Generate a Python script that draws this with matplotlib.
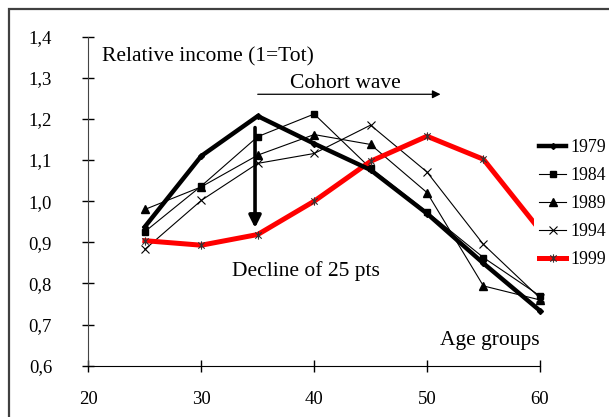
import numpy as np
import matplotlib
matplotlib.use('Agg')
import matplotlib.pyplot as plt
from matplotlib.path import Path
from matplotlib.patches import Rectangle

plt.rcParams['font.family'] = ['Liberation Serif', 'DejaVu Serif']

ages = [25, 30, 35, 40, 45, 50, 55, 60]
y1979 = [0.938, 1.110, 1.207, 1.140, 1.076, 0.970, 0.849, 0.734]
y1984 = [0.926, 1.037, 1.157, 1.212, 1.080, 0.974, 0.863, 0.770]
y1989 = [0.980, 1.035, 1.112, 1.162, 1.138, 1.021, 0.794, 0.760]
y1994 = [0.883, 1.002, 1.092, 1.116, 1.185, 1.071, 0.895, 0.765]
y1999 = [0.904, 0.893, 0.919, 1.000, 1.097, 1.158, 1.102, 0.930]

xticks = [20, 30, 40, 50, 60]
yticks = [0.6, 0.7, 0.8, 0.9, 1.0, 1.1, 1.2, 1.3, 1.4]
ytick_labels = ['0,6', '0,7', '0,8', '0,9', '1,0', '1,1', '1,2', '1,3', '1,4']

# excel style star marker: x with a vertical bar
star = Path([(-1, -1), (1, 1), (-1, 1), (1, -1), (0, -1.3), (0, 1.3)],
            [Path.MOVETO, Path.LINETO, Path.MOVETO, Path.LINETO, Path.MOVETO, Path.LINETO])

fig = plt.figure(figsize=(6.09, 4.17), dpi=100)
ax = fig.add_axes([0.1453, 0.123, 0.7411, 0.789])

ax.plot(ages, y1979, color='black', lw=3.2, marker='D', ms=3, label='1979', clip_on=False, zorder=3)
ax.plot(ages, y1984, color='black', lw=0.8, marker='s', ms=5, label='1984', clip_on=False)
ax.plot(ages, y1989, color='black', lw=0.8, marker='^', ms=5.5, label='1989', clip_on=False)
ax.plot(ages, y1994, color='black', lw=0.8, marker='x', ms=6, mew=0.8, label='1994', clip_on=False)
ax.plot(ages, y1999, color='#ff0000', lw=3.6, marker=star, ms=6, mec='#333333', mew=0.8,
        label='1999', clip_on=False, zorder=2.5)

ax.set_xlim(20, 60)
ax.set_ylim(0.6, 1.4)
ax.set_xticks(xticks)
ax.set_yticks(yticks)
ax.set_yticklabels(ytick_labels)
ax.tick_params(direction='inout', length=8.5, width=1, labelsize=13.5)
ax.tick_params(axis='y', pad=22)
ax.tick_params(axis='x', pad=14)
for s in ['top', 'right']:
    ax.spines[s].set_visible(False)
ax.spines['left'].set_color('#444444')

ax.text(21.2, 1.35, 'Relative income (1=Tot)', fontsize=15.5, va='center', ha='left')
ax.text(42.75, 1.285, 'Cohort wave', fontsize=15.5, va='center', ha='center')
ax.text(39.3, 0.829, 'Decline of 25 pts', fontsize=15.5, va='center', ha='center')
ax.text(60, 0.662, 'Age groups', fontsize=15.5, va='center', ha='right')

ax.annotate('', xy=(51.2, 1.26), xytext=(35.0, 1.26),
            arrowprops=dict(arrowstyle='-|>', lw=0.9, color='black', mutation_scale=12, shrinkA=0, shrinkB=0))
ax.annotate('', xy=(34.76, 0.935), xytext=(34.76, 1.179),
            arrowprops=dict(arrowstyle='-|>', lw=2.6, color='black', mutation_scale=18, shrinkA=0, shrinkB=0))

leg = ax.legend(loc='upper left', bbox_to_anchor=(534 / 609, 1 - 134 / 417), bbox_transform=fig.transFigure,
                frameon=True, fontsize=12.8, handlelength=1.5, handletextpad=0.25, labelspacing=0.62,
                borderpad=0.3, borderaxespad=0)
leg.get_frame().set_facecolor('white')
leg.get_frame().set_edgecolor('none')
leg.get_frame().set_alpha(1)

# outer chart frame (cropped at right and bottom)
fig.patches.append(Rectangle((8.5 / 609, -0.2), 1.5, 1.2 - 9.3 / 417, transform=fig.transFigure,
                             fill=False, edgecolor='#404040', lw=1.6))

fig.savefig('out.png', dpi=100)
